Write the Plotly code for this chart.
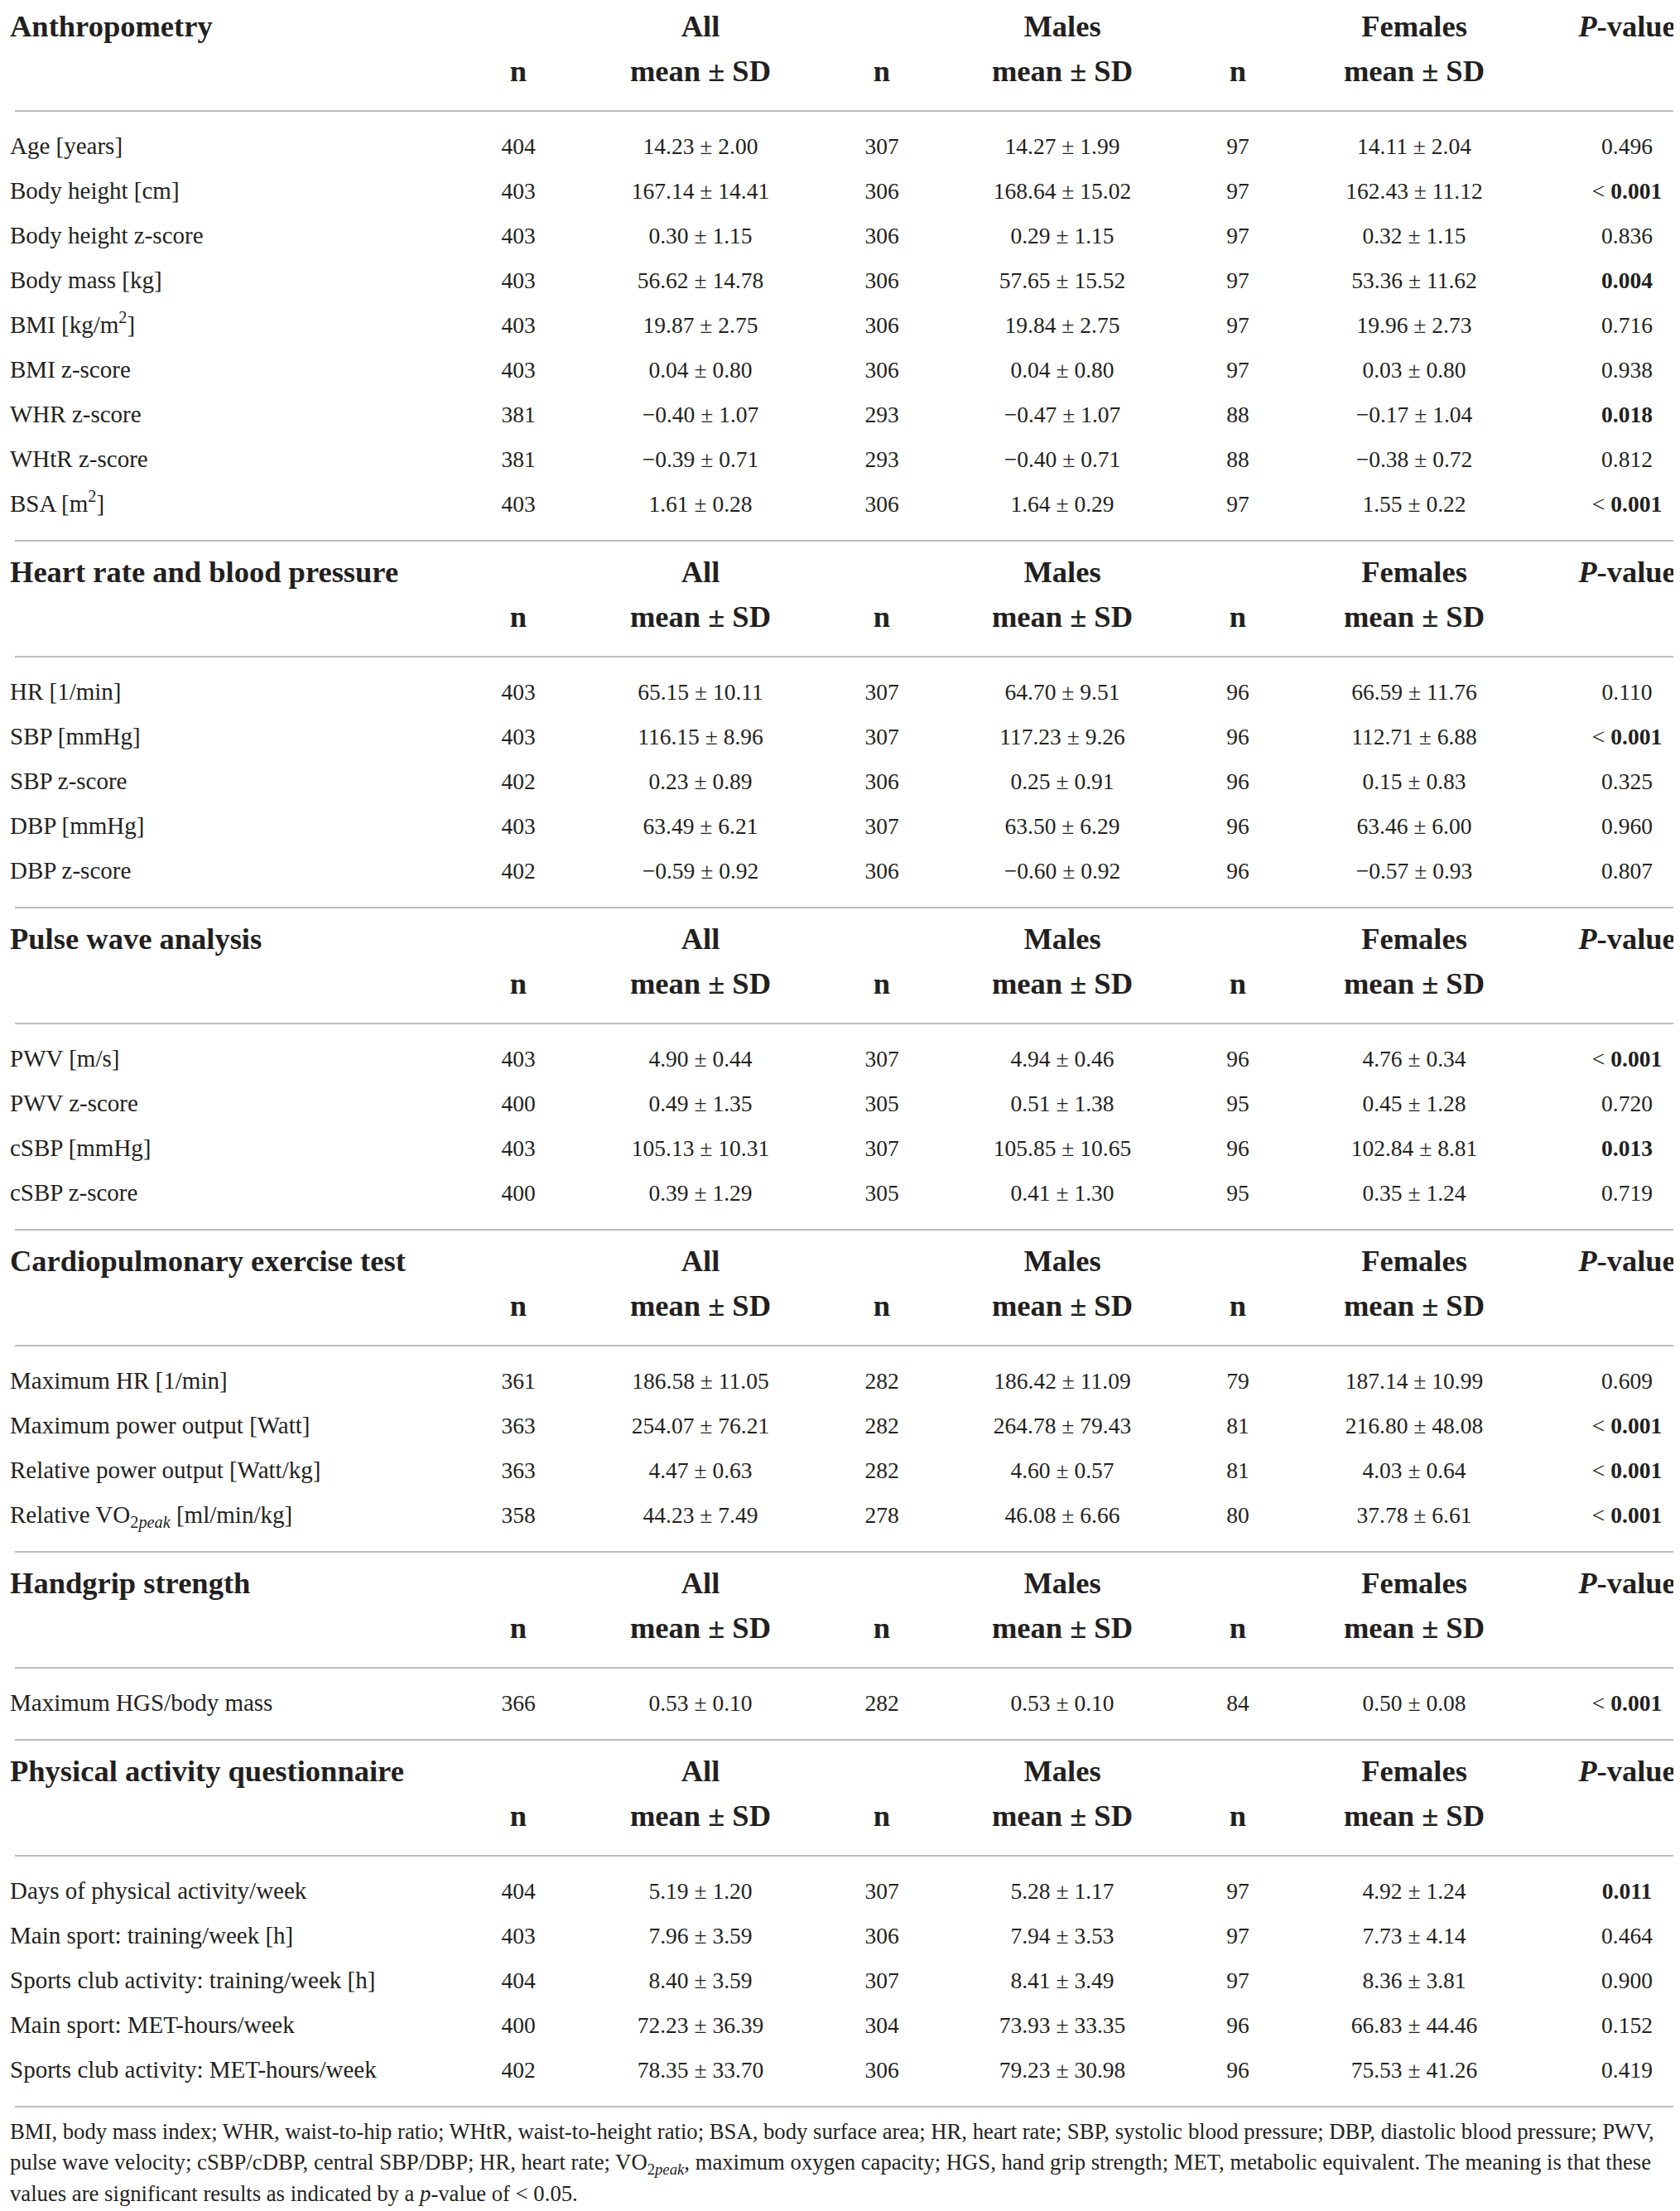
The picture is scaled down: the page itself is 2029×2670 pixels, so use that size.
import plotly.graph_objects as go

# ---- table data ----
section_titles = [
    "Anthropometry",
    "Heart rate and blood pressure",
    "Pulse wave analysis",
    "Cardiopulmonary exercise test",
    "Handgrip strength",
    "Physical activity questionnaire",
]
section_sizes = [9, 5, 4, 4, 1, 5]

row_labels = [
    "Age [years]", "Body height [cm]", "Body height z-score", "Body mass [kg]",
    "BMI [kg/m<sup>2</sup>]", "BMI z-score", "WHR z-score", "WHtR z-score",
    "BSA [m<sup>2</sup>]",
    "HR [1/min]", "SBP [mmHg]", "SBP z-score", "DBP [mmHg]", "DBP z-score",
    "PWV [m/s]", "PWV z-score", "cSBP [mmHg]", "cSBP z-score",
    "Maximum HR [1/min]", "Maximum power output [Watt]",
    "Relative power output [Watt/kg]",
    "Relative VO<sub>2<i>peak</i></sub> [ml/min/kg]",
    "Maximum HGS/body mass",
    "Days of physical activity/week", "Main sport: training/week [h]",
    "Sports club activity: training/week [h]", "Main sport: MET-hours/week",
    "Sports club activity: MET-hours/week",
]

n_all = [404, 403, 403, 403, 403, 403, 381, 381, 403,
         403, 403, 402, 403, 402,
         403, 400, 403, 400,
         361, 363, 363, 358,
         366,
         404, 403, 404, 400, 402]
mean_all = [14.23, 167.14, 0.30, 56.62, 19.87, 0.04, -0.40, -0.39, 1.61,
            65.15, 116.15, 0.23, 63.49, -0.59,
            4.90, 0.49, 105.13, 0.39,
            186.58, 254.07, 4.47, 44.23,
            0.53,
            5.19, 7.96, 8.40, 72.23, 78.35]
sd_all = [2.00, 14.41, 1.15, 14.78, 2.75, 0.80, 1.07, 0.71, 0.28,
          10.11, 8.96, 0.89, 6.21, 0.92,
          0.44, 1.35, 10.31, 1.29,
          11.05, 76.21, 0.63, 7.49,
          0.10,
          1.20, 3.59, 3.59, 36.39, 33.70]

n_male = [307, 306, 306, 306, 306, 306, 293, 293, 306,
          307, 307, 306, 307, 306,
          307, 305, 307, 305,
          282, 282, 282, 278,
          282,
          307, 306, 307, 304, 306]
mean_male = [14.27, 168.64, 0.29, 57.65, 19.84, 0.04, -0.47, -0.40, 1.64,
             64.70, 117.23, 0.25, 63.50, -0.60,
             4.94, 0.51, 105.85, 0.41,
             186.42, 264.78, 4.60, 46.08,
             0.53,
             5.28, 7.94, 8.41, 73.93, 79.23]
sd_male = [1.99, 15.02, 1.15, 15.52, 2.75, 0.80, 1.07, 0.71, 0.29,
           9.51, 9.26, 0.91, 6.29, 0.92,
           0.46, 1.38, 10.65, 1.30,
           11.09, 79.43, 0.57, 6.66,
           0.10,
           1.17, 3.53, 3.49, 33.35, 30.98]

n_female = [97, 97, 97, 97, 97, 97, 88, 88, 97,
            96, 96, 96, 96, 96,
            96, 95, 96, 95,
            79, 81, 81, 80,
            84,
            97, 97, 97, 96, 96]
mean_female = [14.11, 162.43, 0.32, 53.36, 19.96, 0.03, -0.17, -0.38, 1.55,
               66.59, 112.71, 0.15, 63.46, -0.57,
               4.76, 0.45, 102.84, 0.35,
               187.14, 216.80, 4.03, 37.78,
               0.50,
               4.92, 7.73, 8.36, 66.83, 75.53]
sd_female = [2.04, 11.12, 1.15, 11.62, 2.73, 0.80, 1.04, 0.72, 0.22,
             11.76, 6.88, 0.83, 6.00, 0.93,
             0.34, 1.28, 8.81, 1.24,
             10.99, 48.08, 0.64, 6.61,
             0.08,
             1.24, 4.14, 3.81, 44.46, 41.26]

p_values = [0.496, 0.001, 0.836, 0.004, 0.716, 0.938, 0.018, 0.812, 0.001,
            0.110, 0.001, 0.325, 0.960, 0.807,
            0.001, 0.720, 0.013, 0.719,
            0.609, 0.001, 0.001, 0.001,
            0.001,
            0.011, 0.464, 0.900, 0.152, 0.419]
p_less_than = [False, True, False, False, False, False, False, False, True,
               False, True, False, False, False,
               True, False, False, False,
               False, True, True, True,
               True,
               False, False, False, False, False]

footnote_lines = [
    "BMI, body mass index; WHR, waist-to-hip ratio; WHtR, waist-to-height ratio; "
    "BSA, body surface area; HR, heart rate; SBP, systolic blood pressure; "
    "DBP, diastolic blood pressure; PWV,",
    "pulse wave velocity; cSBP/cDBP, central SBP/DBP; HR, heart rate; "
    "VO<sub>2<i>peak</i></sub>, maximum oxygen capacity; HGS, hand grip strength; "
    "MET, metabolic equivalent. The meaning is that these",
    "values are significant results as indicated by a <i>p</i>-value of &lt; 0.05.",
]

# ---- layout constants ----
W, H = 2029, 2670
FONT = "Liberation Serif"
INK = "#231f20"
RULE = "#bdbdbd"
TOP = 27          # first section title
PITCH = 54        # row to row
SUB_RULE = 45     # sub header -> rule
RULE_ROW = 45     # rule -> first row
ROW_RULE = 42     # last row -> rule
RULE_TITLE = 41   # rule -> next section title
X_LABEL = 4
X_N_ALL, X_ALL = 618, 838
X_N_M, X_M = 1057, 1275
X_N_F, X_F = 1487, 1700
X_P = 1957

HEAD = 36.5
LABEL = 29
NUM = 27.5
FOOT = 26.7


def ms(m, s):
    return f"{m:.2f} ± {s:.2f}".replace("-", "\u2212")


def pfmt(p, lt):
    txt = f"{p:.3f}"
    if p < 0.05:
        txt = f"<b>{txt}</b>"
    if lt:
        txt = "&lt; " + txt
    return txt


# row positions
title_y, sub_y, body_y, rule_y = [], [], [], []
y = TOP
for size in section_sizes:
    title_y.append(y)
    sub_y.append(y + PITCH)
    rule_y.append(y + PITCH + SUB_RULE)
    y0 = rule_y[-1] + RULE_ROW
    for i in range(size):
        body_y.append(y0 + i * PITCH)
    last = y0 + (size - 1) * PITCH
    rule_y.append(last + ROW_RULE)
    y = rule_y[-1] + RULE_TITLE
foot_y = [rule_y[-1] + 32 + i * 37.5 for i in range(len(footnote_lines))]

fig = go.Figure()

# horizontal rules
for ry in rule_y:
    fig.add_trace(go.Scatter(x=[10, 2017], y=[ry, ry], mode="lines",
                             line=dict(color=RULE, width=2),
                             hoverinfo="skip", showlegend=False))


def text_trace(xs, ys, texts, size, pos="middle center", color=INK):
    fig.add_trace(go.Scatter(x=xs, y=ys, text=texts, mode="text",
                             textposition=pos,
                             textfont=dict(family=FONT, size=size, color=color),
                             hoverinfo="skip", showlegend=False))


nsec = len(section_titles)

# section headers
text_trace([X_LABEL] * nsec, title_y, [f"<b>{t}</b>" for t in section_titles],
           HEAD, "middle right")
for x, t in [(X_ALL, "All"), (X_M, "Males"), (X_F, "Females"),
             (X_P, "<i>P</i>-value")]:
    text_trace([x] * nsec, title_y, [f"<b>{t}</b>"] * nsec, HEAD)
for x in (X_N_ALL, X_N_M, X_N_F):
    text_trace([x] * nsec, sub_y, ["<b>n</b>"] * nsec, HEAD)
for x in (X_ALL, X_M, X_F):
    text_trace([x] * nsec, sub_y, ["<b>mean ± SD</b>"] * nsec, HEAD)

# body rows
nr = len(row_labels)
text_trace([X_LABEL] * nr, body_y, row_labels, LABEL, "middle right")
text_trace([X_N_ALL] * nr, body_y, [str(v) for v in n_all], NUM)
text_trace([X_ALL] * nr, body_y, [ms(m, s) for m, s in zip(mean_all, sd_all)], NUM)
text_trace([X_N_M] * nr, body_y, [str(v) for v in n_male], NUM)
text_trace([X_M] * nr, body_y, [ms(m, s) for m, s in zip(mean_male, sd_male)], NUM)
text_trace([X_N_F] * nr, body_y, [str(v) for v in n_female], NUM)
text_trace([X_F] * nr, body_y, [ms(m, s) for m, s in zip(mean_female, sd_female)], NUM)
text_trace([X_P] * nr, body_y, [pfmt(p, lt) for p, lt in zip(p_values, p_less_than)], NUM)

# footnote
text_trace([X_LABEL] * len(footnote_lines), foot_y, footnote_lines, FOOT, "middle right")

fig.update_xaxes(range=[0, W], visible=False, fixedrange=True)
fig.update_yaxes(range=[H, 0], visible=False, fixedrange=True)
fig.update_layout(width=W, height=H, autosize=False,
                  margin=dict(l=0, r=0, t=0, b=0),
                  paper_bgcolor="white", plot_bgcolor="white")

fig.write_html("out.html")
